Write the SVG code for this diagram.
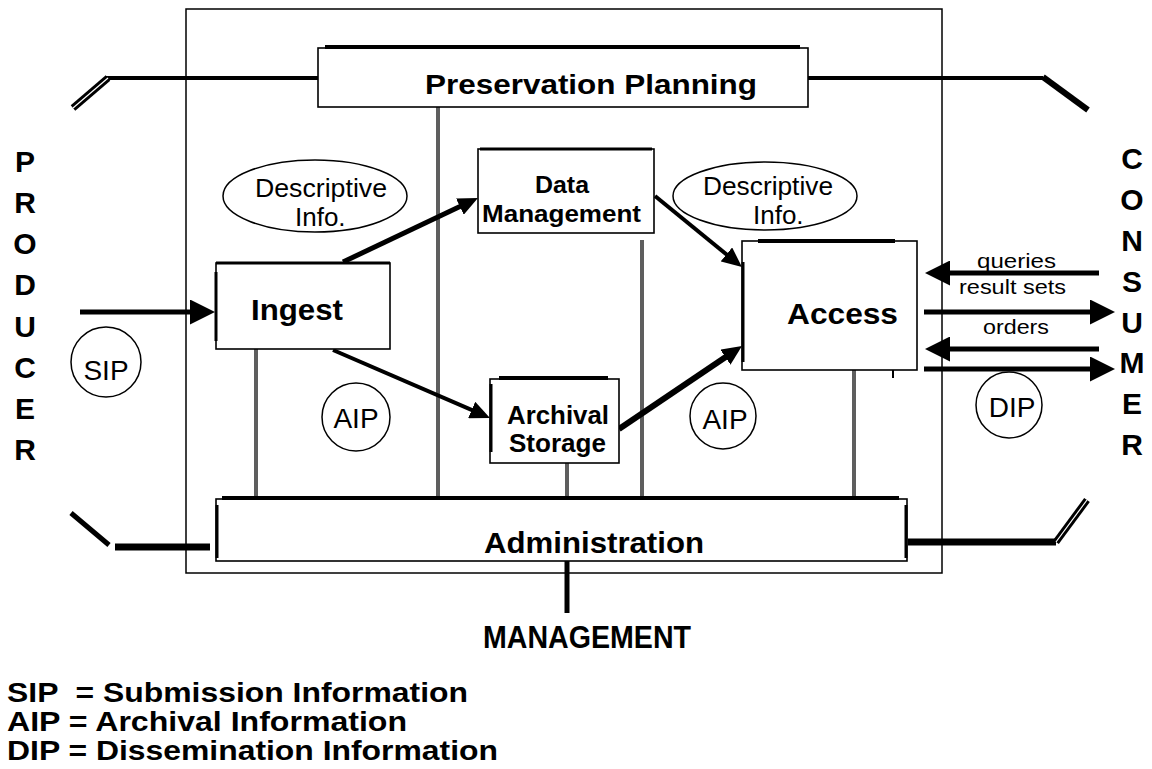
<svg xmlns="http://www.w3.org/2000/svg" width="1152" height="769" viewBox="0 0 1152 769">
<style>
  .box{fill:#fff;stroke:#000;stroke-width:1.6}
  .thick{stroke:#000;stroke-width:4;fill:none}
  .edge{stroke:#000;stroke-width:3;fill:none}
  .gray{stroke:#5e5e5e;stroke-width:4;fill:none}
  .ln{stroke:#000;fill:none}
  .wht{stroke:#fff;stroke-width:1.2;fill:none}
  .oval{fill:#fff;stroke:#000;stroke-width:1.5}
  text{font-family:"Liberation Sans",Arial,Helvetica,sans-serif;fill:#000}
  .b{font-weight:bold}
  .big{font-size:29px;font-weight:bold}
  .reg{font-size:26px}
  .sm{font-size:21px}
  .let{font-size:30px;font-weight:bold;text-anchor:middle}
  .leg{font-size:28px;font-weight:bold;white-space:pre}
  .cir{font-size:28px;text-anchor:middle}
</style>
<defs>
  <marker id="ahBig" markerUnits="userSpaceOnUse" markerWidth="25" markerHeight="25" refX="3" refY="12.5" orient="auto" viewBox="0 0 25 25">
    <path d="M0,0 L25,12.5 L0,25 z" fill="#000"/>
  </marker>
  <marker id="ahSm" markerUnits="userSpaceOnUse" markerWidth="20" markerHeight="18" refX="3" refY="9" orient="auto" viewBox="0 0 20 18">
    <path d="M0,0 L20,9 L0,18 z" fill="#000"/>
  </marker>
</defs>
<rect width="1152" height="769" fill="#fff"/>

<!-- outer OAIS boundary -->
<rect id="oais-boundary" x="186" y="9" width="756" height="564" fill="none" stroke="#000" stroke-width="1.5"/>

<!-- connectors -->
<g id="connectors">
  <!-- gray links to administration / planning -->
  <line class="gray" x1="438" y1="107" x2="438" y2="502"/>
  <line class="gray" x1="642" y1="240" x2="642" y2="503"/>
  <line class="gray" x1="256" y1="349" x2="256" y2="497"/>
  <line class="gray" x1="567" y1="463" x2="567" y2="497"/>
  <line class="gray" x1="854" y1="370" x2="854" y2="497"/>

  <!-- producer/consumer boundary lines -->
  <line class="ln" stroke-width="4" x1="106" y1="78" x2="318" y2="78"/>
  <line class="ln" stroke-width="7" x1="73" y1="108" x2="108" y2="78"/>
  <line class="wht" x1="73" y1="108" x2="108" y2="78"/>
  <line class="ln" stroke-width="4" x1="808" y1="78" x2="1043" y2="78"/>
  <line class="ln" stroke-width="6" x1="1043" y1="77" x2="1088" y2="110"/>
  <line class="ln" stroke-width="7" x1="115" y1="547" x2="210" y2="547"/>
  <line class="ln" stroke-width="5" x1="71" y1="513" x2="109" y2="545"/>
  <line class="ln" stroke-width="7" x1="908" y1="542" x2="1056" y2="542"/>
  <line class="ln" stroke-width="7" x1="1056" y1="542" x2="1087" y2="500"/>
  <line class="wht" x1="1056" y1="542" x2="1087" y2="500"/>
  <line class="ln" stroke-width="5" x1="567" y1="561" x2="567" y2="613"/>

  <!-- producer -> ingest -->
  <line class="ln" stroke-width="5" x1="80" y1="312" x2="193" y2="312" marker-end="url(#ahBig)"/>
  <!-- consumer arrows -->
  <line class="ln" stroke-width="5" x1="1099" y1="273" x2="947" y2="273" marker-end="url(#ahBig)"/>
  <line class="ln" stroke-width="5" x1="924" y1="312" x2="1093" y2="312" marker-end="url(#ahBig)"/>
  <line class="ln" stroke-width="5" x1="1099" y1="349" x2="947" y2="349" marker-end="url(#ahBig)"/>
  <line class="ln" stroke-width="5" x1="924" y1="369" x2="1093" y2="369" marker-end="url(#ahBig)"/>

  <!-- internal flows -->
  <line class="ln" stroke-width="5" x1="343" y1="262" x2="462.6" y2="205.3" marker-end="url(#ahSm)"/>
  <line class="ln" stroke-width="4" x1="333" y1="350" x2="474.4" y2="411.2" marker-end="url(#ahSm)"/>
  <line class="ln" stroke-width="4" x1="655" y1="196" x2="728.8" y2="256.3" marker-end="url(#ahSm)"/>
  <line class="ln" stroke-width="6" x1="619" y1="429" x2="727.9" y2="355.5" marker-end="url(#ahSm)"/>
</g>

<!-- Preservation Planning -->
<g id="preservation-planning">
  <rect class="box" x="318" y="48" width="490" height="59"/>
  <line class="thick" x1="325" y1="47" x2="800" y2="47"/>
  <text class="b" x="425" y="94" font-size="28" textLength="332" lengthAdjust="spacingAndGlyphs">Preservation Planning</text>
</g>

<!-- Ingest -->
<g id="ingest">
  <rect class="box" x="216" y="263" width="174" height="86"/>
  <line class="edge" x1="216" y1="263" x2="390" y2="263"/>
  <line class="edge" x1="216" y1="272" x2="216" y2="341"/>
  <text class="big" x="251" y="320" textLength="92" lengthAdjust="spacingAndGlyphs">Ingest</text>
</g>

<!-- Data Management -->
<g id="data-management">
  <rect class="box" x="478" y="149" width="176" height="84"/>
  <line class="edge" x1="480" y1="149" x2="652" y2="149"/>
  <text class="b" x="535" y="193" font-size="24" textLength="54" lengthAdjust="spacingAndGlyphs">Data</text>
  <text class="b" x="482" y="222" font-size="24" textLength="159" lengthAdjust="spacingAndGlyphs">Management</text>
</g>

<!-- Access -->
<g id="access">
  <rect class="box" x="742" y="241" width="175" height="129"/>
  <line class="thick" x1="758" y1="241" x2="895" y2="241"/>
  <line class="edge" x1="743" y1="262" x2="743" y2="362"/>
  <line class="ln" stroke-width="2" x1="893" y1="370" x2="893" y2="378"/>
  <text class="big" x="787" y="324" textLength="111" lengthAdjust="spacingAndGlyphs">Access</text>
</g>

<!-- Archival Storage -->
<g id="archival-storage">
  <rect class="box" x="490" y="379" width="129" height="84"/>
  <line class="thick" x1="499" y1="378" x2="608" y2="378"/>
  <line class="edge" x1="491" y1="384" x2="491" y2="452"/>
  <text class="b" x="507" y="424" font-size="25" textLength="102" lengthAdjust="spacingAndGlyphs">Archival</text>
  <text class="b" x="509" y="452" font-size="25" textLength="97" lengthAdjust="spacingAndGlyphs">Storage</text>
</g>

<!-- Administration -->
<g id="administration">
  <rect class="box" x="216" y="499" width="691" height="62"/>
  <line class="thick" x1="222" y1="498" x2="899" y2="498"/>
  <line class="edge" x1="217" y1="505" x2="217" y2="558"/>
  <line class="edge" x1="906" y1="505" x2="906" y2="558"/>
  <text class="b" x="484" y="553" font-size="30" textLength="220" lengthAdjust="spacingAndGlyphs">Administration</text>
</g>

<!-- Descriptive Info ovals -->
<g id="descriptive-info-left">
  <ellipse class="oval" cx="315" cy="196" rx="92" ry="36"/>
  <text class="reg" x="255" y="197" textLength="132" lengthAdjust="spacingAndGlyphs">Descriptive</text>
  <text class="reg" x="295" y="226">Info.</text>
</g>
<g id="descriptive-info-right">
  <ellipse class="oval" cx="765" cy="196" rx="92" ry="34"/>
  <text class="reg" x="703" y="195" textLength="130" lengthAdjust="spacingAndGlyphs">Descriptive</text>
  <text class="reg" x="753" y="224">Info.</text>
</g>

<!-- package circles -->
<g id="sip">
  <circle class="oval" cx="106" cy="362" r="35"/>
  <text class="cir" x="106" y="380">SIP</text>
</g>
<g id="aip-left">
  <circle class="oval" cx="356" cy="417" r="34"/>
  <text class="cir" x="356" y="428">AIP</text>
</g>
<g id="aip-right">
  <circle class="oval" cx="723" cy="416" r="33"/>
  <text class="cir" x="725" y="429">AIP</text>
</g>
<g id="dip">
  <circle class="oval" cx="1009" cy="405" r="33"/>
  <text class="cir" x="1012" y="417">DIP</text>
</g>

<!-- flow labels -->
<g id="consumer-labels">
  <text class="sm" x="977" y="268" textLength="79" lengthAdjust="spacingAndGlyphs">queries</text>
  <text class="sm" x="959" y="294" textLength="107" lengthAdjust="spacingAndGlyphs">result sets</text>
  <text class="sm" x="983" y="334" textLength="66" lengthAdjust="spacingAndGlyphs">orders</text>
</g>

<!-- PRODUCER -->
<g id="producer">
  <text class="let" x="25" y="172">P</text>
  <text class="let" x="25" y="213">R</text>
  <text class="let" x="25" y="254">O</text>
  <text class="let" x="25" y="295">D</text>
  <text class="let" x="25" y="337">U</text>
  <text class="let" x="25" y="378">C</text>
  <text class="let" x="25" y="419">E</text>
  <text class="let" x="25" y="460">R</text>
</g>

<!-- CONSUMER -->
<g id="consumer">
  <text class="let" x="1132" y="169">C</text>
  <text class="let" x="1132" y="210">O</text>
  <text class="let" x="1132" y="251">N</text>
  <text class="let" x="1132" y="292">S</text>
  <text class="let" x="1132" y="333">U</text>
  <text class="let" x="1132" y="373">M</text>
  <text class="let" x="1132" y="414">E</text>
  <text class="let" x="1132" y="455">R</text>
</g>

<!-- MANAGEMENT -->
<g id="management">
  <text class="b" x="483" y="648" font-size="31" textLength="208" lengthAdjust="spacingAndGlyphs">MANAGEMENT</text>
</g>

<!-- legend -->
<g id="legend">
  <text class="leg" x="7" y="702" xml:space="preserve" textLength="461" lengthAdjust="spacingAndGlyphs">SIP  = Submission Information</text>
  <text class="leg" x="7" y="731" textLength="400" lengthAdjust="spacingAndGlyphs">AIP = Archival Information</text>
  <text class="leg" x="7" y="760" textLength="491" lengthAdjust="spacingAndGlyphs">DIP = Dissemination Information</text>
</g>
</svg>
